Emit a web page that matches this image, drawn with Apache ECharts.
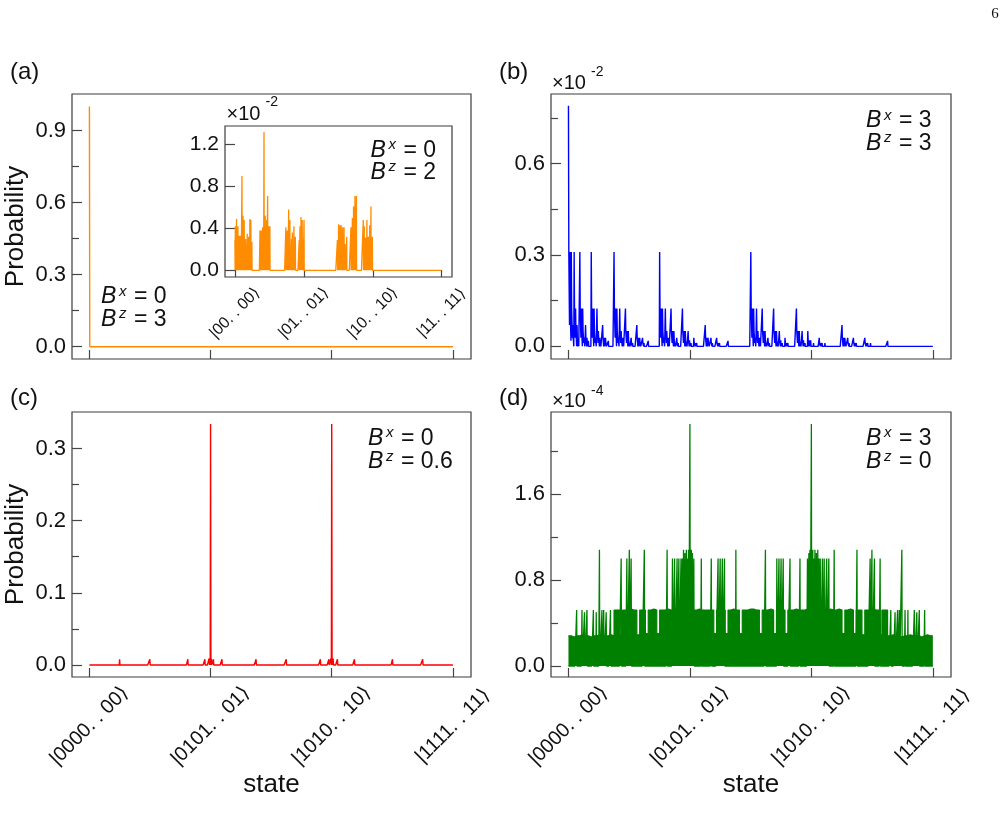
<!DOCTYPE html>
<html>
<head>
<meta charset="utf-8">
<script src="https://cdn.jsdelivr.net/npm/echarts@6/dist/echarts.min.js"></script>
<style>
  html, body { margin: 0; padding: 0; background: #fff; }
  #chart { width: 1006px; height: 834px; }
</style>
</head>
<body>
<div id="chart"></div>
<script>
// ---- data ----
var NSTATES = 1024;                       // 10 spins
var stateTicks = [0, 341, 682, 1023];
var stateLabels = ['|0000. . 00\u27E9', '|0101. . 01\u27E9', '|1010. . 10\u27E9', '|1111. . 11\u27E9'];
var insetLabels = ['|00. . 00\u27E9', '|01. . 01\u27E9', '|10. . 10\u27E9', '|11. . 11\u27E9'];

// (a) Bx=0, Bz=3
var aSpikes = [[0, 1.0]];

// (a) inset Bx=0, Bz=2  (units 1e-2)
var insetSpikes = [
  [0, 0.29], [2, 0.42], [5, 0.30], [8, 0.49], [12, 0.35], [15, 0.42], [18, 0.25], [21, 0.33], [26, 0.33], [30, 0.20],
  [35, 0.90], [40, 0.52], [43, 0.30], [46, 0.48], [50, 0.25], [53, 0.30], [57, 0.22], [61, 0.35], [64, 0.20], [68, 0.32],
  [71, 0.25], [74, 0.49], [79, 0.48], [84, 0.27],
  [124, 0.38], [127, 0.25], [130, 0.38], [134, 0.30], [137, 0.41], [141, 0.28], [144, 1.32], [147, 0.35], [150, 0.52],
  [154, 0.30], [157, 0.48], [162, 0.71], [165, 0.30], [168, 0.42], [173, 0.42],
  [252, 0.41], [255, 0.28], [259, 0.38], [262, 0.30], [266, 0.58], [269, 0.30], [272, 0.48], [277, 0.24], [280, 0.30],
  [284, 0.36], [288, 0.25], [292, 0.42], [295, 0.28], [299, 0.32], [318, 0.29], [322, 0.42], [325, 0.30], [327, 0.51],
  [330, 0.35], [333, 0.48], [337, 0.30], [342, 0.48],
  [507, 0.29], [510, 0.22], [513, 0.44], [516, 0.30], [520, 0.43], [523, 0.30], [526, 0.43], [530, 0.28], [533, 0.41],
  [537, 0.30], [540, 0.41], [543, 0.25], [546, 0.19], [550, 0.25], [553, 0.32], [574, 0.41], [577, 0.30], [581, 0.50],
  [584, 0.35], [587, 0.61], [590, 0.40], [594, 0.71], [597, 0.45], [601, 0.71],
  [635, 0.48], [638, 0.30], [640, 0.42], [644, 0.28], [647, 0.31], [650, 0.25], [653, 0.48], [656, 0.30], [660, 0.32],
  [664, 0.30], [667, 0.43], [670, 0.35], [673, 0.61], [677, 0.30], [680, 0.32]
];

// (b) Bx=3, Bz=3  (units 1e-2); states written as the positions of flipped bits
var bVacuum = 0.79;
var bSingle = ['0', '1', '2', '3', '4', '5', '6', '7', '8', '9'];
var bSingleVal = 0.31;
var bPairApart = ['02', '03', '04', '05', '06', '07', '08', '09', '13', '14', '15', '16', '17', '18', '19',
  '24', '25', '26', '27', '28', '29', '35', '36', '37', '38', '39', '46', '47', '48', '49', '57', '58', '59',
  '68', '69', '79'];
var bPairApartVal = 0.124;
var bPairNext = ['01', '12', '23', '34', '45', '56', '67', '78', '89'];
var bPairNextVal = 0.07;
var bTripleApart = ['024', '025', '026', '027', '028', '029', '035', '036', '037', '038', '039', '046', '047', '048',
  '049', '057', '058', '059', '068', '069', '079', '135', '136', '137', '138', '139', '146', '147', '148', '149',
  '157', '158', '159', '168', '169', '179', '246', '247', '248', '249', '257', '258', '259', '268', '269', '279',
  '357', '358', '359', '368', '369', '379', '468', '469', '479', '579'];
var bTripleApartVal = 0.05;
var bTripleOnePair = ['013', '014', '015', '016', '017', '018', '019', '124', '125', '126', '127', '128', '129',
  '235', '236', '237', '238', '239', '346', '347', '348', '349', '457', '458', '459', '568', '569', '679',
  '023', '034', '045', '056', '067', '078', '089', '134', '145', '156', '167', '178', '189', '245', '256', '267',
  '278', '289', '356', '367', '378', '389', '467', '478', '489', '578', '589', '689'];
var bTripleOnePairVal = 0.028;
var bTripleRun = ['012', '123', '234', '345', '456', '567', '678', '789'];
var bTripleRunVal = 0.018;
var bQuadApart = ['0246', '0247', '0248', '0249', '0257', '0258', '0259', '0268', '0269', '0279', '0357', '0358',
  '0359', '0368', '0369', '0379', '0468', '0469', '0479', '0579', '1357', '1358', '1359', '1368', '1369', '1379',
  '1468', '1469', '1479', '1579', '2468', '2469', '2479', '2579', '3579'];
var bQuadApartVal = 0.02;
var bQuadOnePair = ['0135', '0136', '0137', '0138', '0139', '0146', '0147', '0148', '0149', '0157', '0158', '0159',
  '0168', '0169', '0179', '1246', '1247', '1248', '1249', '1257', '1258', '1259', '1268', '1269', '1279', '2357',
  '2358', '2359', '2368', '2369', '2379', '3468', '3469', '3479', '4579',
  '0235', '0236', '0237', '0238', '0239', '0346', '0347', '0348', '0349', '0457', '0458', '0459', '0568', '0569',
  '0679', '1346', '1347', '1348', '1349', '1457', '1458', '1459', '1568', '1569', '1679', '2457', '2458', '2459',
  '2568', '2569', '2679', '3568', '3569', '3679', '4679',
  '0245', '0256', '0267', '0278', '0289', '0356', '0367', '0378', '0389', '0467', '0478', '0489', '0578', '0589',
  '0689', '1356', '1367', '1378', '1389', '1467', '1478', '1489', '1578', '1589', '1689', '2467', '2478', '2489',
  '2578', '2589', '2689', '3578', '3589', '3689', '4689'];
var bQuadOnePairVal = 0.011;

// (c) Bx=0, Bz=0.6
var cSpikes = [
  [341, 0.334], [682, 0.334],
  [85, 0.008], [170, 0.008], [277, 0.008], [325, 0.008], [337, 0.009], [340, 0.009], [343, 0.009], [349, 0.008],
  [373, 0.008], [469, 0.008], [554, 0.008], [650, 0.008], [674, 0.008], [680, 0.009], [683, 0.009], [686, 0.009],
  [698, 0.008], [746, 0.008], [853, 0.008], [938, 0.008]
];

// (d) Bx=3, Bz=0  (units 1e-4): top of the dense band, one value per block of 8 states
var dBandTop = [
  0.28, 0.27, 0.28, 0.28, 0.29, 0.28, 0.28, 0.27, 0.28, 0.28, 0.29, 0.28, 0.28, 0.28, 0.29, 0.28,
  0.52, 0.52, 0.29, 0.52, 0.52, 0.53, 0.52, 0.52, 0.29, 0.52, 0.52, 0.30, 0.52, 0.53, 0.52, 0.30,
  0.52, 0.52, 0.53, 0.52, 0.52, 0.52, 0.53, 0.52, 0.55, 0.55, 0.55, 0.52, 0.52, 0.53, 0.52, 0.52,
  0.52, 0.52, 0.52, 0.30, 0.52, 0.52, 0.52, 0.30, 0.52, 0.53, 0.52, 0.52, 0.30, 0.52, 0.52, 0.53,
  0.53, 0.52, 0.52, 0.30, 0.52, 0.52, 0.53, 0.52, 0.30, 0.52, 0.52, 0.52, 0.30, 0.52, 0.52, 0.53,
  0.52, 0.52, 0.52, 0.53, 0.52, 0.55, 0.55, 0.55, 0.52, 0.52, 0.52, 0.53, 0.52, 0.52, 0.53, 0.52,
  0.30, 0.52, 0.53, 0.52, 0.30, 0.52, 0.52, 0.29, 0.52, 0.52, 0.53, 0.52, 0.52, 0.29, 0.52, 0.52,
  0.28, 0.29, 0.28, 0.28, 0.27, 0.28, 0.28, 0.29, 0.28, 0.28, 0.28, 0.27, 0.28, 0.29, 0.28, 0.28
];
// (d) single tall lines above the band
var dSpikes = [
  [23, 0.52], [38, 0.52], [45, 0.50], [52, 0.52], [70, 0.52], [78, 0.50], [87, 1.08], [94, 0.52], [99, 0.52],
  [106, 0.50], [118, 0.52], [148, 1.0], [164, 1.0], [171, 1.08], [176, 1.0], [213, 1.08], [277, 1.08], [292, 1.0],
  [298, 1.0], [305, 1.0], [310, 1.0], [316, 1.0], [320, 1.0], [323, 1.08], [327, 1.05], [331, 1.08], [334, 1.0],
  [337, 1.08], [341, 2.25], [345, 1.08], [348, 1.05], [352, 1.0], [373, 1.0], [401, 1.0], [420, 1.0], [426, 1.0],
  [432, 1.0], [438, 1.0], [470, 1.08],
  [553, 1.08], [585, 1.0], [591, 1.0], [597, 1.0], [603, 1.0], [622, 1.0], [650, 1.0], [671, 1.0], [675, 1.05],
  [678, 1.08], [682, 2.25], [686, 1.08], [689, 1.0], [692, 1.08], [696, 1.05], [700, 1.08], [703, 1.0], [707, 1.0],
  [713, 1.0], [718, 1.0], [725, 1.0], [731, 1.0], [746, 1.08], [810, 1.08], [847, 1.0], [852, 1.08], [859, 1.0],
  [875, 1.0], [905, 0.52], [917, 0.50], [924, 0.52], [929, 0.52], [936, 1.08], [945, 0.52], [953, 0.52],
  [971, 0.52], [978, 0.50], [985, 0.52], [1000, 0.52]
];

// ---- helpers ----
var FONT = '"Liberation Sans", Arial, "DejaVu Sans", sans-serif';
var AXIS = '#454545';

// state index from the positions of its flipped bits
function stateIndex(bits) {
  return bits.split('').reduce(function (s, d) { return s + (1 << Number(d)); }, 0);
}
function withValue(list, v) {
  return list.map(function (b) { return [stateIndex(b), v]; });
}
// every state on the axis, zero where nothing was read
function spikeLine(pairs) {
  var y = new Array(NSTATES).fill(0);
  pairs.forEach(function (p) { y[p[0]] = Math.max(y[p[0]], p[1]); });
  return y.map(function (v, i) { return [i, v]; });
}

var bPairs = [[0, bVacuum]]
  .concat(withValue(bSingle, bSingleVal))
  .concat(withValue(bPairApart, bPairApartVal))
  .concat(withValue(bPairNext, bPairNextVal))
  .concat(withValue(bTripleApart, bTripleApartVal))
  .concat(withValue(bTripleOnePair, bTripleOnePairVal))
  .concat(withValue(bTripleRun, bTripleRunVal))
  .concat(withValue(bQuadApart, bQuadApartVal))
  .concat(withValue(bQuadOnePair, bQuadOnePairVal));

var dBand = dBandTop.map(function (v, i) { return [i * 8, v]; });
dBand.push([NSTATES - 1, dBandTop[dBandTop.length - 1]]);

function stateAxis(gridIndex, labels, fontSize, margin, tickLen) {
  return {
    type: 'value', gridIndex: gridIndex, min: -49, max: 1074, position: 'bottom',
    axisLine: { show: false, onZero: false },
    splitLine: { show: false },
    axisTick: { show: true, inside: true, length: tickLen, customValues: stateTicks,
      lineStyle: { color: AXIS, width: 1.2 } },
    axisLabel: {
      show: !!labels, customValues: stateTicks,
      formatter: function (v) { return labels ? labels[stateTicks.indexOf(v)] : ''; },
      rotate: 45, align: 'center', verticalAlign: 'middle', margin: margin,
      fontSize: fontSize, fontFamily: FONT, color: '#111'
    }
  };
}
function probAxis(gridIndex, min, max, ticks, fontSize) {
  return {
    type: 'value', gridIndex: gridIndex, min: min, max: max, position: 'left',
    axisLine: { show: false, onZero: false },
    splitLine: { show: false },
    axisTick: { inside: true, length: 10, customValues: ticks, lineStyle: { color: AXIS, width: 1.2 } },
    axisLabel: { customValues: ticks, formatter: function (v) { return v.toFixed(1); },
      fontSize: fontSize, fontFamily: FONT, color: '#111', margin: 6 }
  };
}
function minorAxis(gridIndex, min, max, ticks) {
  return {
    type: 'value', gridIndex: gridIndex, min: min, max: max, position: 'left', offset: 0,
    axisLine: { show: false, onZero: false },
    splitLine: { show: false },
    axisTick: { inside: true, length: 7, customValues: ticks, lineStyle: { color: AXIS, width: 1.2 } },
    axisLabel: { show: false, customValues: ticks }
  };
}
function lineSeries(x, y, data, color, width, extra) {
  var s = {
    type: 'line', xAxisIndex: x, yAxisIndex: y, data: data,
    showSymbol: false, symbol: 'none', silent: true,
    lineStyle: { color: color, width: width },
    itemStyle: { color: color }
  };
  for (var k in extra) s[k] = extra[k];
  return s;
}

// text helpers
function txt(x, y, text, size, opts) {
  opts = opts || {};
  return {
    type: 'text', x: x, y: y, rotation: opts.rotation || 0, silent: true,
    style: {
      text: text, fill: '#111', align: opts.align || 'left', verticalAlign: 'middle',
      font: (opts.italic ? 'italic ' : '') + size + 'px ' + (opts.family || FONT)
    }
  };
}
function fieldLabel(x, bl1, bl2, v1, v2) {
  return [
    txt(x, bl1 - 8, 'B', 23, { italic: true }), txt(x + 18, bl1 - 13.5, 'x', 15, { italic: true }),
    txt(x + 33, bl1 - 8, '= ' + v1, 23),
    txt(x, bl2 - 8, 'B', 23, { italic: true }), txt(x + 18, bl2 - 13.5, 'z', 15, { italic: true }),
    txt(x + 33, bl2 - 8, '= ' + v2, 23)
  ];
}
function scaleLabel(x, bl, supY, exp) {
  return [txt(x, bl - 6.9, '\u00D710', 20), txt(x + 39, supY, exp, 14)];
}

var graphics = [].concat(
  [txt(10, 72, '(a)', 24), txt(499, 72, '(b)', 24), txt(10, 398, '(c)', 24), txt(499, 398, '(d)', 24)],
  [txt(16, 226.5, 'Probability', 26, { align: 'center', rotation: Math.PI / 2 }),
   txt(16, 544.5, 'Probability', 26, { align: 'center', rotation: Math.PI / 2 }),
   txt(271.5, 785, 'state', 26, { align: 'center' }),
   txt(751, 785, 'state', 26, { align: 'center' }),
   txt(995, 14, '6', 15, { align: 'center', family: '"Liberation Serif", "DejaVu Serif", serif' })],
  fieldLabel(101, 305, 327.7, '0', '3'),
  fieldLabel(370.5, 158.3, 180.7, '0', '2'),
  fieldLabel(866, 129, 151.7, '3', '3'),
  fieldLabel(368, 446.7, 470, '0', '0.6'),
  fieldLabel(866, 446.7, 470, '3', '0'),
  scaleLabel(552, 90, 72.5, '-2'),
  scaleLabel(552, 408.3, 391.3, '-4'),
  scaleLabel(226.5, 121, 102.5, '-2')
);

var gridStyle = { show: true, borderColor: '#3c3c3c', borderWidth: 1.2, backgroundColor: 'transparent' };
function grid(l, t, w, h, bg) {
  return Object.assign({}, gridStyle, { left: l, top: t, width: w, height: h, containLabel: false },
    bg ? { backgroundColor: bg } : {});
}

var chart = echarts.init(document.getElementById('chart'), null, { renderer: 'canvas' });
chart.setOption({
  animation: false,
  backgroundColor: '#fff',
  grid: [
    grid(72, 94, 399, 265),
    grid(551, 94, 400, 265),
    grid(72, 412, 399, 265),
    grid(551, 412, 400, 265),
    grid(225, 126, 227, 151, '#fff')
  ],
  xAxis: [
    stateAxis(0, null, 20, 49, 9),
    stateAxis(1, null, 20, 49, 9),
    stateAxis(2, stateLabels, 20, 49, 9),
    stateAxis(3, stateLabels, 20, 49, 9),
    stateAxis(4, insetLabels, 16, 36, 7)
  ],
  yAxis: [
    probAxis(0, -0.0513, 1.0517, [0, 0.3, 0.6, 0.9], 22),
    minorAxis(0, -0.0513, 1.0517, [0.15, 0.45, 0.75]),
    probAxis(1, -0.0416, 0.829, [0, 0.3, 0.6], 22),
    minorAxis(1, -0.0416, 0.829, [0.15, 0.45, 0.75]),
    probAxis(2, -0.0167, 0.3506, [0, 0.1, 0.2, 0.3], 22),
    minorAxis(2, -0.0167, 0.3506, [0.05, 0.15, 0.25]),
    probAxis(3, -0.1025, 2.362, [0, 0.8, 1.6], 22),
    minorAxis(3, -0.1025, 2.362, [0.4, 1.2, 2.0]),
    probAxis(4, -0.064, 1.378, [0, 0.4, 0.8, 1.2], 21)
  ],
  series: [
    lineSeries(0, 0, spikeLine(aSpikes), '#ff8c00', 1.4),
    lineSeries(4, 8, spikeLine(insetSpikes), '#ff8c00', 1.3),
    lineSeries(1, 2, spikeLine(bPairs), '#0000ff', 1.4),
    lineSeries(2, 4, spikeLine(cSpikes), '#ff0000', 1.4),
    lineSeries(3, 6, dBand, '#008000', 1.2, { step: 'end', areaStyle: { color: '#008000', opacity: 1 } }),
    lineSeries(3, 6, spikeLine(dSpikes), '#008000', 1.3)
  ],
  graphic: graphics
});
</script>
</body>
</html>
